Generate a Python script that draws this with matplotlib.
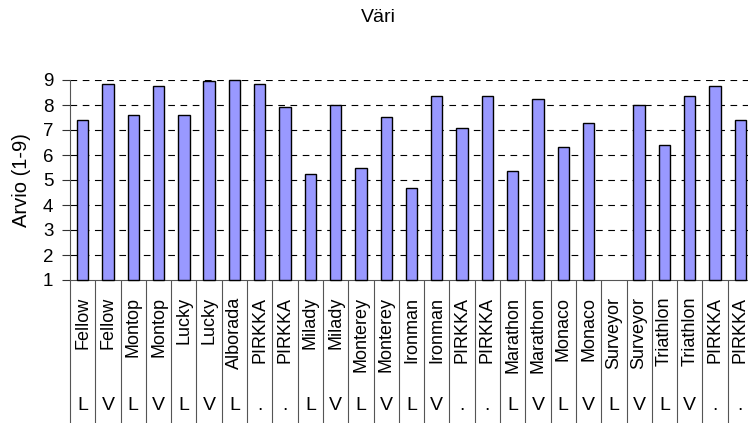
import numpy as np
import matplotlib
matplotlib.use("Agg")
import matplotlib.pyplot as plt
import matplotlib.transforms as mtransforms

names = ["Fellow", "Fellow", "Montop", "Montop", "Lucky", "Lucky", "Alborada",
         "PIRKKA", "PIRKKA", "Milady", "Milady", "Monterey", "Monterey",
         "Ironman", "Ironman", "PIRKKA", "PIRKKA", "Marathon", "Marathon",
         "Monaco", "Monaco", "Surveyor", "Surveyor", "Triathlon", "Triathlon",
         "PIRKKA", "PIRKKA"]
groups = ["L", "V", "L", "V", "L", "V", "L", ".", ".", "L", "V", "L", "V",
          "L", "V", ".", ".", "L", "V", "L", "V", "L", "V", "L", "V", ".", "."]
values = [7.4, 8.83, 7.6, 8.76, 7.6, 8.95, 9.0, 8.83, 7.92, 5.24, 8.0, 5.49,
          7.53, 4.67, 8.37, 7.09, 8.37, 5.37, 8.25, 6.32, 7.29, np.nan, 8.0,
          6.39, 8.37, 8.76, 7.41]
yticks = [1, 2, 3, 4, 5, 6, 7, 8, 9]
title = "Väri"
ylabel = "Arvio (1-9)"

plt.rcParams['font.family'] = ['Liberation Sans', 'DejaVu Sans']

W, H = 748, 423
fig = plt.figure(figsize=(W / 100, H / 100), dpi=100)
ax = fig.add_axes([70 / W, 1 - 280 / H, 683 / W, 200 / H])

x = np.arange(len(names))
vals = np.array(values, dtype=float)
ax.bar(x, vals - 1, bottom=1, width=0.45, color="#9999ff",
       edgecolor="black", linewidth=1.0, zorder=3, clip_on=False)

ax.set_xlim(-0.5, len(names) - 0.5)
ax.set_ylim(1, 9)
ax.set_yticks(yticks)
ax.tick_params(axis='y', labelsize=13.5, length=6, width=0.8, color="#333333",
               pad=6, direction='out')
for yv in yticks[1:]:
    ax.axhline(yv, color="black", linestyle=(0, (6, 5)), linewidth=0.8, zorder=1)

# category separators as long minor ticks
ax.set_xticks([])
ax.set_xticks(np.arange(len(names) + 1) - 0.5, minor=True)
ax.tick_params(axis='x', which='minor', length=103, width=0.8, color="#555555",
               direction='out')
ax.tick_params(axis='x', which='major', length=0)

for s in ['top', 'right']:
    ax.spines[s].set_visible(False)
ax.spines['left'].set_color("#555555")
ax.spines['bottom'].set_color("#555555")
ax.spines['left'].set_linewidth(0.8)
ax.spines['bottom'].set_linewidth(0.8)

trans = mtransforms.blended_transform_factory(ax.transData, ax.transAxes)
for xi, n, g in zip(x, names, groups):
    ax.text(xi, -0.085, n, rotation=90, ha='center', va='top', fontsize=13,
            transform=trans, clip_on=False)
    ax.text(xi, -0.625, g, ha='center', va='center', fontsize=14,
            transform=trans, clip_on=False)

fig.text(378 / W, 1 - 17 / H, title, ha='center', va='center', fontsize=14)
fig.text(22 / W, 1 - 180 / H, ylabel, ha='center', va='center', rotation=90,
         fontsize=14.5)

fig.savefig("out.png", dpi=100)
